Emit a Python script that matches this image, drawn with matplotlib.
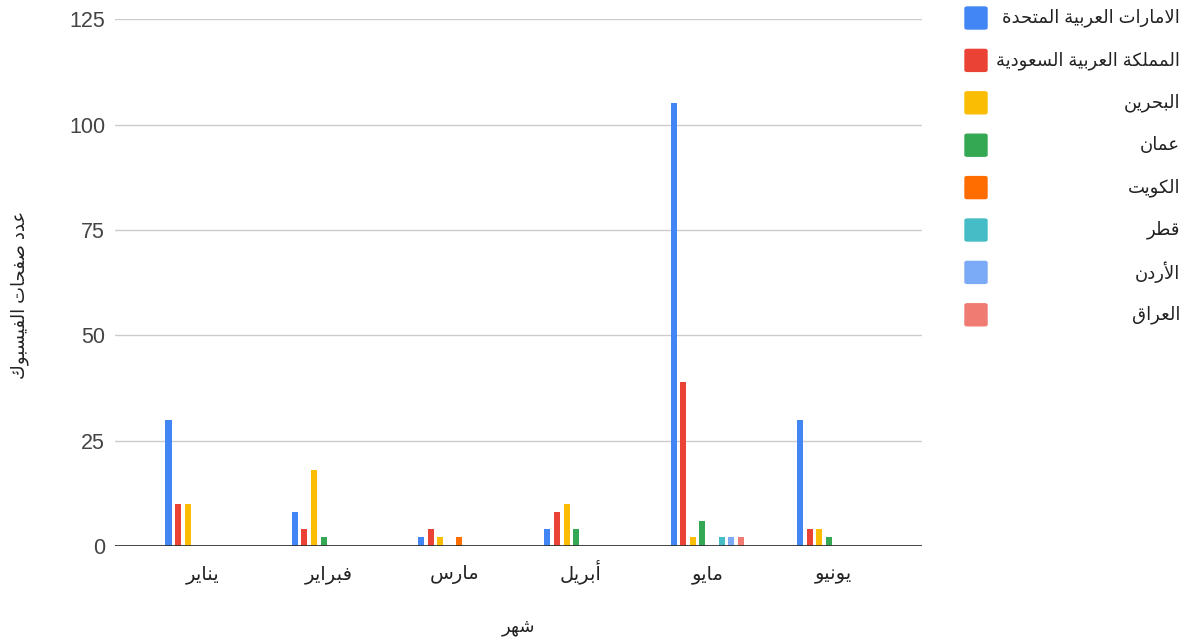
import numpy as np
import matplotlib.pyplot as plt
from matplotlib.patches import FancyBboxPatch

plt.rcParams['font.family'] = ['Liberation Sans', 'DejaVu Sans']

# Arabic letters -> presentation forms (isolated, final, initial, medial)
FORMS = {
    'ا': ('\uFE8D', '\uFE8E', None, None),
    'أ': ('\uFE83', '\uFE84', None, None),
    'ب': ('\uFE8F', '\uFE90', '\uFE91', '\uFE92'),
    'ة': ('\uFE93', '\uFE94', None, None),
    'ت': ('\uFE95', '\uFE96', '\uFE97', '\uFE98'),
    'ح': ('\uFEA1', '\uFEA2', '\uFEA3', '\uFEA4'),
    'د': ('\uFEA9', '\uFEAA', None, None),
    'ر': ('\uFEAD', '\uFEAE', None, None),
    'س': ('\uFEB1', '\uFEB2', '\uFEB3', '\uFEB4'),
    'ش': ('\uFEB5', '\uFEB6', '\uFEB7', '\uFEB8'),
    'ص': ('\uFEB9', '\uFEBA', '\uFEBB', '\uFEBC'),
    'ط': ('\uFEC1', '\uFEC2', '\uFEC3', '\uFEC4'),
    'ع': ('\uFEC9', '\uFECA', '\uFECB', '\uFECC'),
    'ف': ('\uFED1', '\uFED2', '\uFED3', '\uFED4'),
    'ق': ('\uFED5', '\uFED6', '\uFED7', '\uFED8'),
    'ك': ('\uFED9', '\uFEDA', '\uFEDB', '\uFEDC'),
    'ل': ('\uFEDD', '\uFEDE', '\uFEDF', '\uFEE0'),
    'م': ('\uFEE1', '\uFEE2', '\uFEE3', '\uFEE4'),
    'ن': ('\uFEE5', '\uFEE6', '\uFEE7', '\uFEE8'),
    'ه': ('\uFEE9', '\uFEEA', '\uFEEB', '\uFEEC'),
    'و': ('\uFEED', '\uFEEE', None, None),
    'ي': ('\uFEF1', '\uFEF2', '\uFEF3', '\uFEF4'),
}
LAM_ALEF = {'ا': ('\uFEFB', '\uFEFC'), 'أ': ('\uFEF7', '\uFEF8')}


def dual(c):
    return c in FORMS and FORMS[c][2] is not None


def ar(s):
    out = []
    i, n = 0, len(s)
    while i < n:
        c = s[i]
        if c not in FORMS:
            out.append(c)
            i += 1
            continue
        joins_prev = i > 0 and dual(s[i - 1])
        if c == 'ل' and i + 1 < n and s[i + 1] in LAM_ALEF:
            iso, fin = LAM_ALEF[s[i + 1]]
            out.append(fin if joins_prev else iso)
            i += 2
            continue
        joins_next = dual(c) and i + 1 < n and s[i + 1] in FORMS
        iso, fin, ini, med = FORMS[c]
        if joins_prev and joins_next:
            out.append(med)
        elif joins_prev:
            out.append(fin)
        elif joins_next:
            out.append(ini)
        else:
            out.append(iso)
        i += 1
    return ''.join(out)[::-1]


months = ['يناير', 'فبراير', 'مارس', 'أبريل', 'مايو', 'يونيو']
countries = ['الامارات العربية المتحدة', 'المملكة العربية السعودية', 'البحرين',
             'عمان', 'الكويت', 'قطر', 'الأردن', 'العراق']
colors = ['#4285F4', '#EA4335', '#FBBC04', '#34A853',
          '#FF6D01', '#46BDC6', '#7BAAF7', '#F07B72']

uae = [30, 8, 2, 4, 105, 30]
ksa = [10, 4, 4, 8, 39, 4]
bahrain = [10, 18, 2, 10, 2, 4]
oman = [0, 2, 0, 4, 6, 2]
kuwait = [0, 0, 2, 0, 0, 0]
qatar = [0, 0, 0, 0, 2, 0]
jordan = [0, 0, 0, 0, 2, 0]
iraq = [0, 0, 0, 0, 2, 0]
series = [uae, ksa, bahrain, oman, kuwait, qatar, jordan, iraq]

fig = plt.figure(figsize=(11.85, 6.4), dpi=100)
ax = fig.add_axes([0.097, 0.147, 0.681, 0.823])

x = np.arange(len(months))
step = 0.076
width = 0.048
for k, (vals, col) in enumerate(zip(series, colors)):
    ax.bar(x + (k - 3.5) * step, vals, width=width, color=col, zorder=3)

ax.set_xlim(-0.69, 5.70)
ax.set_ylim(0, 125)
ax.set_yticks([0, 25, 50, 75, 100, 125])
ax.grid(axis='y', color='#cccccc', linewidth=1, zorder=0)
ax.axhline(0, color='#333333', linewidth=2, zorder=4)
for sp in ax.spines.values():
    sp.set_visible(False)
ax.tick_params(axis='both', length=0, colors='#444444')
ax.tick_params(axis='y', pad=7, labelsize=15.5)
ax.tick_params(axis='x', pad=24, labelsize=14)
ax.set_xticks(x)
ax.set_xticklabels([ar(m) for m in months], color='#222222', va='baseline')
ax.set_xlabel(ar('شهر'), fontsize=13, color='#222222', va='top')
ax.xaxis.set_label_coords(0.5, -0.139)
ax.set_ylabel(ar('عدد صفحات الفيسبوك'), fontsize=13, color='#222222')
ax.yaxis.set_label_coords(-0.106, 0.477)

# legend on the right: swatch on the left, text right-aligned
for k, (name, col) in enumerate(zip(countries, colors)):
    yc = 1 - (18 + 42.4 * k) / 640
    fig.patches.append(FancyBboxPatch((965 / 1185, yc - 11 / 640), 22 / 1185, 22 / 640,
                                      boxstyle='round,pad=0,rounding_size=0.002',
                                      transform=fig.transFigure, color=col))
    fig.text(1180 / 1185, yc, ar(name), ha='right', va='center',
             fontsize=13, color='#222222')

fig.savefig('out.png', dpi=100)
